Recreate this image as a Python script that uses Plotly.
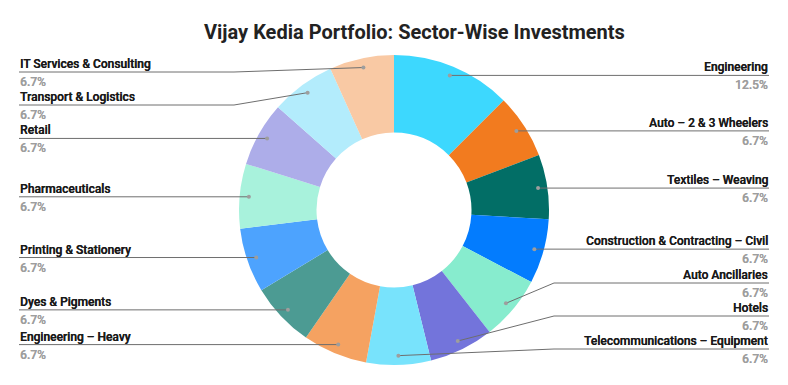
import numpy as np
import plotly.graph_objects as go

# ---------------- data ----------------
sectors = [
    "Engineering",
    "Auto – 2 & 3 Wheelers",
    "Textiles – Weaving",
    "Construction & Contracting – Civil",
    "Auto Ancillaries",
    "Hotels",
    "Telecommunications – Equipment",
    "Engineering – Heavy",
    "Dyes & Pigments",
    "Printing & Stationery",
    "Pharmaceuticals",
    "Retail",
    "Transport & Logistics",
    "IT Services & Consulting",
]
weights = [12.5, 6.73, 6.73, 6.73, 6.73, 6.73, 6.73, 6.73, 6.73, 6.73, 6.73, 6.73, 6.73, 6.73]
colors = [
    "#3DD8FE", "#F27B1F", "#026E66", "#037CFE", "#87ECCE", "#7374DB", "#78E3FC",
    "#F5A261", "#4C9B93", "#4DA3FE", "#A8F2DC", "#ADADE9", "#B3ECFC", "#F9C9A4",
]

# ---------------- geometry (pixels) ----------------
W, H = 788, 385
cx, cy, R = 394, 210, 155
dot_r = 0.94 * R
left_edge, right_edge = 19, 769
elbow = R + 5
gap, y_top, y_bot = 33, 72, 349

vals = np.array(weights, dtype=float)
frac = vals / vals.sum()
mid = (np.cumsum(frac) - frac / 2) * 2 * np.pi
dot_x = cx + dot_r * np.sin(mid)
dot_y = cy - dot_r * np.cos(mid)


def spread(idx):
    idx = sorted(idx, key=lambda i: dot_y[i])
    ys = [dot_y[i] for i in idx]
    ys[0] = max(ys[0], y_top)
    for k in range(1, len(ys)):
        ys[k] = max(ys[k], ys[k - 1] + gap)
    ys[-1] = min(ys[-1], y_bot)
    for k in range(len(ys) - 2, -1, -1):
        ys[k] = min(ys[k], ys[k + 1] - gap)
    return dict(zip(idx, ys))


right_idx = [i for i in range(len(vals)) if mid[i] < np.pi]
left_idx = [i for i in range(len(vals)) if mid[i] >= np.pi]
label_y = {**spread(right_idx), **spread(left_idx)}


def px(x):
    return x / W


def py(y):
    return 1 - y / H


LABEL_FONT = "Roboto, sans-serif"

fig = go.Figure()
fig.add_trace(go.Pie(
    labels=sectors, values=weights, sort=False, direction="clockwise", rotation=0,
    hole=0.5, textinfo="none", hoverinfo="label+percent",
    marker=dict(colors=colors, line=dict(width=0)),
    domain=dict(x=[px(cx - R), px(cx + R)], y=[py(cy + R), py(cy - R)]),
    showlegend=False,
))

shapes, annotations = [], []
for i, name in enumerate(sectors):
    ly = label_y[i]
    right = mid[i] < np.pi
    ex = right_edge if right else left_edge
    bx = cx + elbow if right else cx - elbow
    path = f"M {px(ex)} {py(ly)} L {px(bx)} {py(ly)} L {px(dot_x[i])} {py(dot_y[i])}"
    shapes.append(dict(type="path", path=path, xref="paper", yref="paper",
                       line=dict(color="#6E6E6E", width=1), layer="above"))
    shapes.append(dict(type="circle", xref="paper", yref="paper",
                       x0=px(dot_x[i] - 2), x1=px(dot_x[i] + 2),
                       y0=py(dot_y[i] + 2), y1=py(dot_y[i] - 2),
                       fillcolor="#9E9E9E", line=dict(width=0), layer="above"))
    anchor = "right" if right else "left"
    annotations.append(dict(
        x=px(ex), y=py(ly - 8), xref="paper", yref="paper", text=name,
        showarrow=False, xanchor=anchor, yanchor="middle", borderpad=0,
        font=dict(family=LABEL_FONT, size=12, color="#1A1A1A", weight=500,
                  shadow="0.35px 0 0 #1A1A1A")))
    annotations.append(dict(
        x=px(ex), y=py(ly + 10), xref="paper", yref="paper",
        text=f"{frac[i] * 100:.1f}%",
        showarrow=False, xanchor=anchor, yanchor="middle", borderpad=0,
        font=dict(family=LABEL_FONT, size=12, color="#9E9E9E", weight=500,
                  shadow="0.35px 0 0 #9E9E9E")))

annotations.append(dict(
    x=414 / W, y=py(32), xref="paper", yref="paper",
    text="Vijay Kedia Portfolio: Sector-Wise Investments",
    showarrow=False, xanchor="center", yanchor="middle",
    font=dict(family="Roboto", size=20, color="#222222", weight="bold")))

fig.update_layout(
    width=W, height=H, margin=dict(l=0, r=0, t=0, b=0),
    paper_bgcolor="white", plot_bgcolor="white",
    shapes=shapes, annotations=annotations,
    font=dict(family="Roboto"),
)
fig.write_html("out.html", config={"displayModeBar": False},
               post_script="document.body.style.margin='0';")
